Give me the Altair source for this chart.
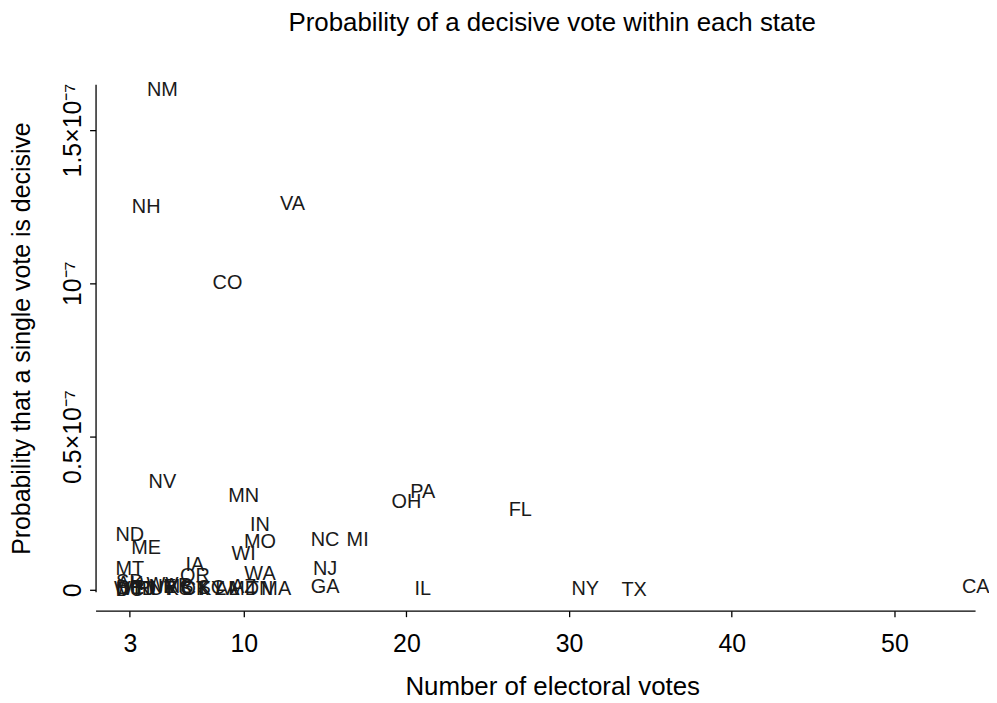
import altair as alt
import pandas as pd

states = ["CA", "TX", "NY", "FL", "IL", "PA", "OH", "MI", "GA", "NC", "NJ",
          "VA", "MA", "IN", "WA", "TN", "MO", "AZ", "MD", "MN", "WI", "AL",
          "CO", "LA", "KY", "SC", "OR", "OK", "CT", "IA", "MS", "KS", "AR",
          "UT", "NV", "NM", "WV", "NE", "ID", "ME", "NH", "HI", "RI", "MT",
          "DE", "SD", "ND", "AK", "VT", "WY", "DC"]
votes = [55, 34, 31, 27, 21, 21, 20, 17, 15, 15, 15,
         13, 12, 11, 11, 11, 11, 10, 10, 10, 10, 9,
         9, 9, 8, 8, 7, 7, 7, 7, 6, 6, 6,
         5, 5, 5, 5, 5, 4, 4, 4, 4, 4, 3,
         3, 3, 3, 3, 3, 3, 3]
probs = [1.0e-9, 0.0, 0.4e-9, 26.0e-9, 0.4e-9, 32.0e-9, 28.5e-9, 16.2e-9, 1.0e-9, 16.2e-9, 6.8e-9,
         1.26e-7, 0.2e-9, 21.0e-9, 5.0e-9, 0.1e-9, 15.5e-9, 0.8e-9, 0.1e-9, 30.5e-9, 11.7e-9, 0.2e-9,
         1.0e-7, 0.3e-9, 0.2e-9, 0.6e-9, 4.5e-9, 0.1e-9, 0.4e-9, 8.0e-9, 0.8e-9, 0.4e-9, 1.2e-9,
         0.1e-9, 35.0e-9, 1.63e-7, 1.5e-9, 0.8e-9, 0.1e-9, 13.6e-9, 1.25e-7, 0.2e-9, 0.3e-9, 6.8e-9,
         0.5e-9, 2.5e-9, 17.8e-9, 1.8e-9, 0.1e-9, 0.2e-9, 0.0]

x_ticks = [3, 10, 20, 30, 40, 50]
y_ticks = [0, 0.5e-7, 1e-7, 1.5e-7]

df = pd.DataFrame({"state": states, "votes": votes, "prob": probs})

FONT = "Liberation Sans"

y_label_expr = ("datum.value < 1e-9 ? '0' : datum.value < 0.75e-7 ? '0.5\u00d710\u207b\u2077' : "
                "datum.value < 1.25e-7 ? '10\u207b\u2077' : '1.5\u00d710\u207b\u2077'")

chart = alt.Chart(df).mark_text(font=FONT, fontSize=20, color="#1a1a1a").encode(
    x=alt.X("votes:Q",
            scale=alt.Scale(domain=[0.89, 54.96], nice=False, zero=False),
            axis=alt.Axis(values=x_ticks, title="Number of electoral votes", grid=False,
                          offset=19, tickSize=6, labelPadding=35, labelBaseline="alphabetic",
                          labelFontSize=25, titleFontSize=26, titleX=459, titleY=84,
                          titleBaseline="alphabetic", titleAlign="center", titleFontWeight="normal",
                          domainColor="black", tickColor="black", labelColor="black",
                          titleColor="black", domainWidth=1.3, tickWidth=1.3,
                          labelFont=FONT, titleFont=FONT)),
    y=alt.Y("prob:Q",
            scale=alt.Scale(domain=[-6.5e-10, 1.649e-7], nice=False, zero=False),
            axis=alt.Axis(values=y_ticks, labelExpr=y_label_expr,
                          title="Probability that a single vote is decisive", grid=False,
                          tickSize=6, labelPadding=9, labelAngle=270, labelAlign="center",
                          labelBaseline="alphabetic", labelFontSize=25, titleFontSize=25,
                          titleX=-66, titleY=255, titleAngle=270, titleAlign="center",
                          titleBaseline="alphabetic", titleFontWeight="normal",
                          domainColor="black", tickColor="black", labelColor="black",
                          titleColor="black", domainWidth=1.3, tickWidth=1.3,
                          labelFont=FONT, titleFont=FONT)),
    text="state:N",
).properties(
    width=884,
    height=510,
    autosize=alt.AutoSizeParams(type="none"),
    padding={"left": 88, "top": 75, "right": 14, "bottom": 108},
    title=alt.TitleParams("Probability of a decisive vote within each state", fontSize=26,
                          font=FONT, fontWeight="normal", anchor="middle", dx=17, offset=23,
                          baseline="alphabetic", frame="group", color="black"),
).configure_view(stroke=None)

chart.save("out.html", embed_options={"renderer": "svg", "actions": False})
